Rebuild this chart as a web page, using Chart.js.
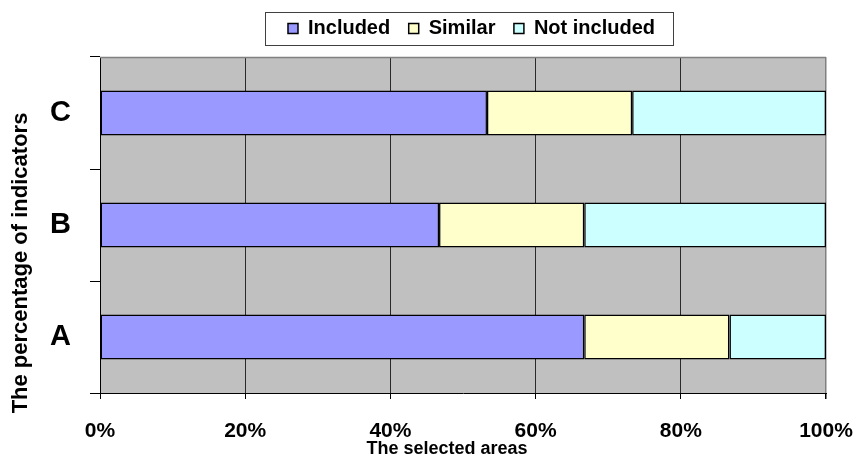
<!DOCTYPE html>
<html>
<head>
<meta charset="utf-8">
<script src="https://cdn.jsdelivr.net/npm/chart.js@4/dist/chart.umd.min.js"></script>
<style>
  html, body { margin: 0; padding: 0; background: #ffffff; }
  #wrap { width: 856px; height: 465px; }
</style>
</head>
<body>
<div id="wrap"><canvas id="chart" width="856" height="465"></canvas></div>
<script>
// Share of indicators per selected area (percent of the 15 indicators)
const categories = ['A', 'B', 'C'];
const seriesNames = ['Included', 'Similar', 'Not included'];
const included = [66.7, 46.7, 53.3];
const similar = [20.0, 20.0, 20.0];
const notIncluded = [13.3, 33.3, 26.7];
const xTicks = [0, 20, 40, 60, 80, 100];

const xTitle = 'The selected areas';
const yTitle = 'The percentage of indicators';

const FONT = '"Liberation Sans", Arial, sans-serif';

// Grey plot background, grey top edge, framed legend and the two axis titles
const decor = {
  id: 'decor',
  beforeLayout(chart) {
    const lg = chart.legend;
    if (lg && !lg._patched) {
      const fit = lg.fit;
      lg.fit = function () { fit.call(this); this.height = 57; };
      lg._patched = true;
    }
  },
  afterLayout(chart) {
    const lg = chart.legend;
    if (lg) { lg.left = 117; lg.right = 826; lg.width = lg.right - lg.left; }
  },
  beforeDraw(chart) {
    const { ctx, chartArea: a } = chart;
    ctx.save();
    ctx.fillStyle = '#c0c0c0';
    ctx.fillRect(a.left, a.top, a.right - a.left, a.bottom - a.top);
    ctx.restore();
  },
  afterDraw(chart) {
    const { ctx, chartArea: a } = chart;
    ctx.save();
    // top edge of the plot area
    ctx.strokeStyle = '#808080';
    ctx.lineWidth = 1.5;
    ctx.beginPath();
    ctx.moveTo(a.left, a.top + 0.5);
    ctx.lineTo(a.right, a.top + 0.5);
    ctx.stroke();

    // frame around the legend
    const boxes = chart.legend.legendHitBoxes;
    if (boxes && boxes.length) {
      const l = Math.min(...boxes.map(b => b.left));
      const r = Math.max(...boxes.map(b => b.left + b.width));
      const cy = boxes[0].top + boxes[0].height / 2;
      ctx.strokeStyle = '#404040';
      ctx.lineWidth = 1;
      ctx.strokeRect(Math.round(l - 23) + 0.5, Math.round(cy - 16.5) + 0.5,
                     Math.round(r - l + 41), 33);
    }

    // axis titles
    ctx.fillStyle = '#000';
    ctx.textAlign = 'center';
    ctx.textBaseline = 'middle';
    ctx.font = 'bold 18px ' + FONT;
    ctx.fillText(xTitle, 447, 449);
    ctx.translate(21, 263);
    ctx.rotate(-Math.PI / 2);
    ctx.font = 'bold 22px ' + FONT;
    ctx.fillText(yTitle, 0, 0);
    ctx.restore();
  }
};

const common = { borderColor: '#000000', borderWidth: 1.5, borderSkipped: false,
                 barPercentage: 0.4, categoryPercentage: 1 };

new Chart(document.getElementById('chart'), {
  type: 'bar',
  data: {
    labels: categories,
    datasets: [
      Object.assign({ label: seriesNames[0], data: included, backgroundColor: '#9999ff' }, common),
      Object.assign({ label: seriesNames[1], data: similar, backgroundColor: '#ffffcc' }, common),
      Object.assign({ label: seriesNames[2], data: notIncluded, backgroundColor: '#ccffff' }, common)
    ]
  },
  options: {
    indexAxis: 'y',
    responsive: false,
    devicePixelRatio: 1,
    animation: false,
    layout: { padding: 0 },
    plugins: {
      tooltip: { enabled: false },
      legend: {
        position: 'top',
        labels: {
          color: '#000',
          font: { family: FONT, size: 20, weight: 'bold' },
          boxWidth: 10,
          boxHeight: 10,
          padding: 18.5
        }
      }
    },
    scales: {
      x: {
        stacked: true,
        min: 0,
        max: 100,
        afterFit(s) { s.height = 72; s.paddingLeft = 0; s.paddingRight = 30; },
        afterBuildTicks(s) { s.ticks = xTicks.map(v => ({ value: v })); },
        ticks: {
          color: '#000',
          padding: 20,
          font: { family: FONT, size: 21, weight: 'bold' },
          callback: v => v + '%'
        },
        grid: {
          color: c => (c.tick && c.tick.value === 100 ? '#808080' : '#2a2a2a'),
          lineWidth: c => (c.tick && c.tick.value === 100 ? 1.5 : 1),
          tickColor: '#000',
          tickLength: 6
        },
        border: { color: '#000', width: 1 }
      },
      y: {
        stacked: true,
        reverse: true,
        afterFit(s) { s.width = 100; },
        ticks: {
          color: '#000',
          padding: 19,
          font: { family: FONT, size: 29, weight: 'bold' }
        },
        grid: {
          offset: true,
          drawOnChartArea: false,
          tickColor: '#000',
          tickLength: 10
        },
        border: { color: '#000', width: 1 }
      }
    }
  },
  plugins: [decor]
});
</script>
</body>
</html>
